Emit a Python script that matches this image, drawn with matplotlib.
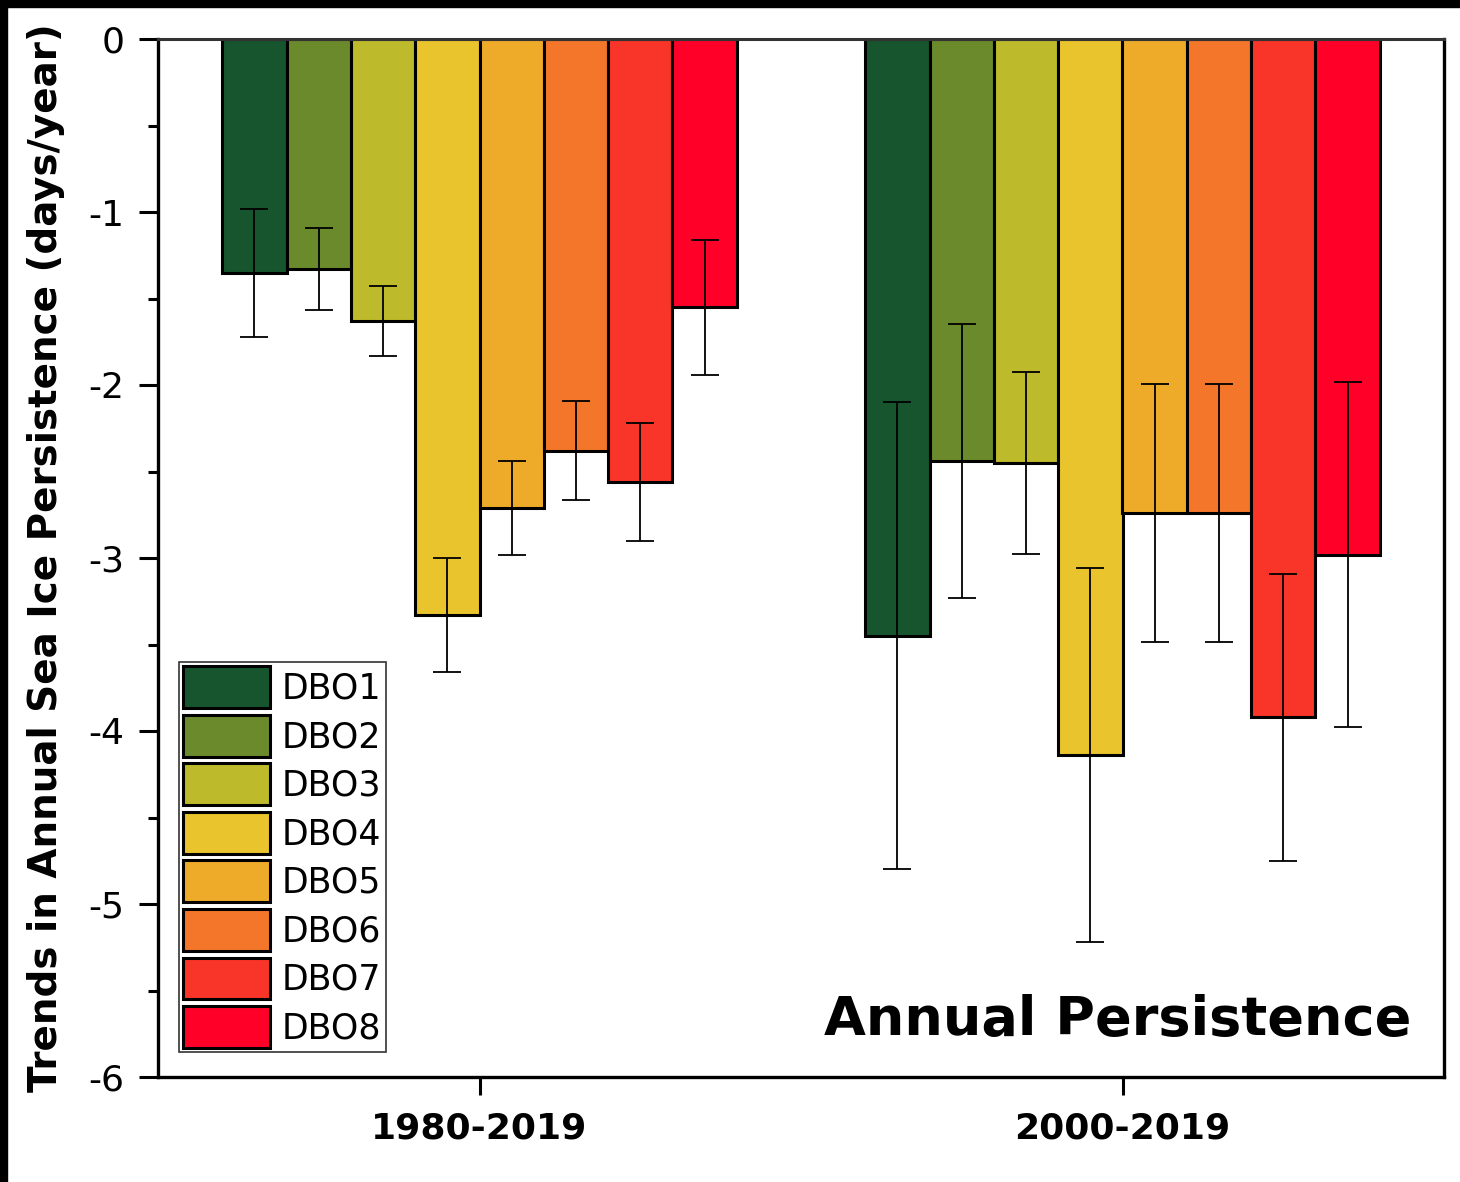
import matplotlib
matplotlib.use("Agg")
import matplotlib.pyplot as plt
import numpy as np
from matplotlib.patches import Rectangle
from matplotlib.ticker import MultipleLocator

periods = ["1980-2019", "2000-2019"]
stations = ["DBO1", "DBO2", "DBO3", "DBO4", "DBO5", "DBO6", "DBO7", "DBO8"]
trend_1980 = [-1.35, -1.33, -1.63, -3.33, -2.71, -2.38, -2.56, -1.55]
err_1980 = [0.37, 0.235, 0.20, 0.33, 0.27, 0.285, 0.34, 0.39]
trend_2000 = [-3.45, -2.44, -2.45, -4.14, -2.74, -2.74, -3.92, -2.98]
err_2000 = [1.35, 0.79, 0.525, 1.08, 0.745, 0.745, 0.83, 0.995]
colors = ["#17552E", "#6B8A2C", "#BDBA2B", "#E9C42C", "#EEAB29", "#F3762A", "#F93428", "#FF0029"]

fig = plt.figure(figsize=(14.6, 11.82), dpi=100)
ax = fig.add_axes([158/1460, 1-1077/1182, (1444-158)/1460, (1077-39)/1182])

# black frame bands top and left
fig.patches.append(Rectangle((0, 1-7/1182), 1, 7/1182, transform=fig.transFigure, color="black", zorder=0))
fig.patches.append(Rectangle((0, 0), 7/1460, 1, transform=fig.transFigure, color="black", zorder=0))

centers = np.array([1.0, 2.0])
width = 0.1
for i, st in enumerate(stations):
    xs = centers + (i - 3.5) * width
    vals = [trend_1980[i], trend_2000[i]]
    errs = [err_1980[i], err_2000[i]]
    ax.bar(xs, vals, width=width, color=colors[i], edgecolor="black", linewidth=2.2, label=st, zorder=2)
    ax.errorbar(xs, vals, yerr=errs, fmt="none", ecolor="black", elinewidth=1.3,
                capsize=10, capthick=1.3, zorder=3)

ax.set_xlim(0.5, 2.5)
ax.set_ylim(-6, 0)
ax.set_xticks(centers)
ax.set_xticklabels(periods, fontsize=26, fontweight="bold")
ax.set_yticks(np.arange(-6, 0.1, 1))
ax.set_yticklabels(["-6", "-5", "-4", "-3", "-2", "-1", "0"], fontsize=26)
ax.yaxis.set_minor_locator(MultipleLocator(0.5))
ax.tick_params(axis="y", which="major", direction="out", length=14, width=2.2, pad=10)
ax.tick_params(axis="y", which="minor", direction="out", length=7, width=2.2)
ax.tick_params(axis="x", which="major", direction="out", length=13, width=2.2, pad=12)
for s in ["left", "bottom", "right"]:
    ax.spines[s].set_linewidth(2.4)
ax.spines["top"].set_linewidth(2.2)
ax.spines["top"].set_color("#333333")

ax.set_ylabel("Trends in Annual Sea Ice Persistence (days/year)", fontsize=28, fontweight="bold")
ax.yaxis.set_label_coords(-0.0723, 0.5)

ax.text(0.975, 0.03, "Annual Persistence", transform=ax.transAxes, ha="right", va="bottom",
        fontsize=39, fontweight="bold")

leg = ax.legend(loc="lower left", bbox_to_anchor=(0.0163, 0.024), fontsize=25, frameon=True,
                fancybox=False, edgecolor="black", handlelength=2.5, handleheight=1.48,
                labelspacing=0.19, handletextpad=0.35, borderpad=0.12, borderaxespad=0)
leg.get_frame().set_linewidth(1.2)

fig.savefig("out.png", dpi=100, facecolor="white")
